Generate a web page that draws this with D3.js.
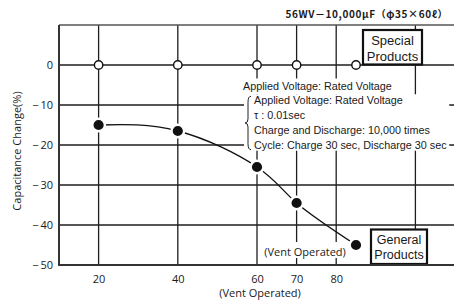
<!DOCTYPE html>
<html>
<head>
<meta charset="utf-8">
<script src="https://cdn.jsdelivr.net/npm/d3@7"></script>
<style>
body{margin:0;background:#fff}
svg{display:block}
text{font-family:"Open Sans","Noto Sans",sans-serif;fill:#1a1a1a}
</style>
</head>
<body>
<svg id="chart" width="454" height="302"></svg>
<script>
// vent operation points (x) and capacitance change (%)
var ventX = [20, 40, 60, 70, 85]
var generalProducts = [-15, -16.5, -25.5, -34.5, -45]
var specialProducts = [0, 0, 0, 0, 0]
var xTicks = [20, 40, 60, 70, 80]
var xGrid = [20, 40, 60, 70, 80, 100]
var yTicks = [0, -10, -20, -30, -40, -50]
var yGrid = [0, -10, -20, -30, -40]
var noteLines = [
  'Applied Voltage: Rated Voltage',
  'Applied Voltage: Rated Voltage',
  'τ : 0.01sec',
  'Charge and Discharge: 10,000 times',
  'Cycle: Charge 30 sec, Discharge 30 sec'
]
var title = '56WV－10,000μF（φ35×60ℓ）'

var svg = d3.select('#chart')
var x = d3.scaleLinear().domain([10, 110]).range([59, 455])
var y = d3.scaleLinear().domain([-50, 10]).range([265, 25])

var gridColor = '#1e1e1e'
var arial = '"Liberation Sans", Arial, sans-serif'

// grid
svg.append('g').selectAll('line').data(yGrid).join('line')
  .attr('x1', x(10)).attr('x2', x(110))
  .attr('y1', d => y(d)).attr('y2', d => y(d))
  .attr('stroke', gridColor).attr('stroke-width', 1.3)

svg.append('g').selectAll('line').data(xGrid).join('line')
  .attr('x1', d => x(d)).attr('x2', d => x(d))
  .attr('y1', y(10)).attr('y2', y(-50))
  .attr('stroke', gridColor).attr('stroke-width', 1.3)

// top border
svg.append('line')
  .attr('x1', x(10)).attr('x2', x(110))
  .attr('y1', y(10)).attr('y2', y(10))
  .attr('stroke', '#555').attr('stroke-width', 1.6)

// test conditions note, with white backing
var note = svg.append('g')
var noteText = note.selectAll('text').data(noteLines).join('text')
  .attr('x', (d, i) => i ? 254 : 243)
  .attr('y', (d, i) => 89.5 + i * 14.8)
  .attr('font-size', 10.8)
  .style('font-family', arial)
  .text(d => d)

var boxes = noteText.nodes().map(n => n.getBBox())
var b0 = boxes[0]
var rest = boxes.slice(1)
var rx0 = d3.min(rest, b => b.x), rx1 = d3.max(rest, b => b.x + b.width)
var ry0 = d3.min(rest, b => b.y), ry1 = d3.max(rest, b => b.y + b.height)
note.insert('rect', 'text')
  .attr('x', b0.x - 1).attr('y', b0.y - 1).attr('width', b0.width + 2).attr('height', ry0 - b0.y + 1)
  .attr('fill', '#fff')
note.insert('rect', 'text')
  .attr('x', rx0 - 10).attr('y', ry0).attr('width', rx1 - rx0 + 12).attr('height', ry1 - ry0)
  .attr('fill', '#fff')

// brace
var bx = 249, bt = ry0 + 2, bb = ry1 - 1, bm = (bt + bb) / 2
note.append('path')
  .attr('d', `M${bx + 2},${bt} Q${bx - 1},${bt} ${bx - 1},${bt + 6} L${bx - 1},${bm - 4} Q${bx - 1},${bm} ${bx - 4},${bm}
    Q${bx - 1},${bm} ${bx - 1},${bm + 4} L${bx - 1},${bb - 6} Q${bx - 1},${bb} ${bx + 2},${bb}`)
  .attr('fill', 'none').attr('stroke', '#222').attr('stroke-width', 1)

// in-plot "(Vent Operated)" label
var vent = svg.append('g')
var ventText = vent.append('text')
  .attr('x', 305).attr('y', 256).attr('text-anchor', 'middle')
  .attr('font-size', 11)
  .text('(Vent Operated)')
var vb = ventText.node().getBBox()
vent.insert('rect', 'text')
  .attr('x', vb.x - 2).attr('y', vb.y - 2).attr('width', vb.width + 4).attr('height', vb.height + 1)
  .attr('fill', '#fff')

// general products curve
var pts = ventX.map((d, i) => [d, generalProducts[i]])
svg.append('path')
  .datum(pts)
  .attr('d', d3.line().x(d => x(d[0])).y(d => y(d[1])).curve(d3.curveNatural))
  .attr('fill', 'none').attr('stroke', '#111').attr('stroke-width', 1.3)

svg.append('g').selectAll('circle').data(pts).join('circle')
  .attr('cx', d => x(d[0])).attr('cy', d => y(d[1])).attr('r', 6.3)
  .attr('fill', '#111').attr('stroke', '#fff').attr('stroke-width', 2.4)

// special products markers
svg.append('g').selectAll('circle').data(ventX).join('circle')
  .attr('cx', d => x(d)).attr('cy', (d, i) => y(specialProducts[i])).attr('r', 4.2)
  .attr('fill', '#fff').attr('stroke', '#111').attr('stroke-width', 1.4)

// labelled boxes
function labelBox(lines, cx, top, h, w, size, gap) {
  var g = svg.append('g')
  g.append('rect')
    .attr('x', cx - w / 2).attr('y', top).attr('width', w).attr('height', h)
    .attr('fill', '#fff').attr('stroke', '#111').attr('stroke-width', 2.2)
  g.selectAll('text').data(lines).join('text')
    .attr('x', cx).attr('y', (d, i) => top + size + 2 + i * gap)
    .attr('text-anchor', 'middle').attr('font-size', size)
    .style('font-family', arial)
    .text(d => d)
}
labelBox(['Special', 'Products'], 392.5, 30, 34.5, 59, 13, 16)
labelBox(['General', 'Products'], 399, 229.5, 34.5, 56, 12.5, 14.5)

// axes
var yAxis = svg.append('g')
  .attr('transform', `translate(${x(10)},0)`)
  .call(d3.axisLeft(y).tickValues(yTicks).tickSize(0).tickPadding(6)
    .tickFormat(d => d < 0 ? '−\u2009' + (-d) : d))
yAxis.select('.domain').remove()
yAxis.selectAll('text').attr('font-size', 11).attr('font-family', '"Open Sans",sans-serif').attr('fill', '#1a1a1a')

var xAxis = svg.append('g')
  .attr('transform', `translate(0,${y(-50)})`)
  .call(d3.axisBottom(x).tickValues(xTicks).tickSize(0).tickPadding(10))
xAxis.select('.domain').remove()
xAxis.selectAll('text').attr('font-size', 11).attr('font-family', '"Open Sans",sans-serif').attr('fill', '#1a1a1a')

// frame left & bottom
svg.append('path')
  .attr('d', `M${x(10)},${y(10)}V${y(-50)}H${x(110)}`)
  .attr('fill', 'none').attr('stroke', '#333').attr('stroke-width', 2)

// titles
svg.append('text')
  .attr('x', 260).attr('y', 297).attr('text-anchor', 'middle')
  .attr('font-size', 11)
  .text('(Vent Operated)')

svg.append('text')
  .attr('transform', 'translate(21,151) rotate(-90)')
  .attr('text-anchor', 'middle').attr('font-size', 11)
  .text('Capacitance Change(%)')

svg.append('text')
  .attr('x', 448).attr('y', 18).attr('text-anchor', 'end')
  .attr('font-size', 10).attr('font-weight', 'bold')
  .attr('letter-spacing', 0.6)
  .style('font-family', '"Noto Sans CJK JP","Noto Sans",sans-serif')
  .text(title)
</script>
</body>
</html>
